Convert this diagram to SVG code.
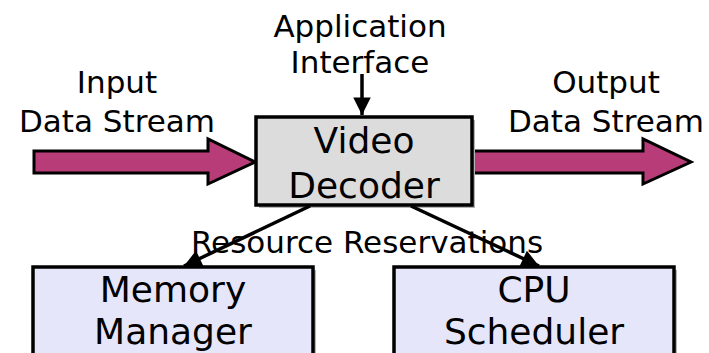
<svg xmlns="http://www.w3.org/2000/svg" width="709" height="353" viewBox="0 0 709 353">
<style>
.lbl{font-family:"DejaVu Sans",Verdana,sans-serif;font-size:31px;fill:#000;text-anchor:middle}
.big{font-family:"DejaVu Sans",Verdana,sans-serif;font-size:36px;fill:#000;text-anchor:middle}
.box{stroke:#000;stroke-width:3.5}
.shadow{fill:#b4b4b4}
.flow{fill:#b83c78;stroke:#000;stroke-width:3;stroke-linejoin:miter}
.conn{stroke:#000;stroke-width:3.5;fill:none}
</style>
<defs>
<marker id="ah" viewBox="0 0 10 10" refX="10" refY="5" markerWidth="6" markerHeight="5" markerUnits="strokeWidth" orient="auto">
<path d="M0,0 L10,5 L0,10 z" fill="#000"/>
</marker>
</defs>
<rect width="709" height="353" fill="#fff"/>
<g id="labels">
<text class="lbl" x="117" y="93">Input</text>
<text class="lbl" x="117" y="132">Data Stream</text>
<text class="lbl" x="360" y="37">Application</text>
<text class="lbl" x="360" y="73">Interface</text>
<text class="lbl" x="606" y="93">Output</text>
<text class="lbl" x="606" y="132">Data Stream</text>
</g>
<g id="input-arrow">
<path class="flow" d="M34,151 L208,151 L208,139 L255,162 L208,184 L208,173 L34,173 z"/>
</g>
<g id="output-arrow">
<path class="flow" d="M472,151 L643,151 L643,139 L691,162 L643,184 L643,173 L472,173 z"/>
</g>
<g id="video-decoder">
<rect class="shadow" x="259" y="120" width="216" height="88"/>
<rect class="box" x="256" y="117" width="216" height="88" fill="#dcdcdc"/>
<text class="big" x="364" y="153">Video</text>
<text class="big" x="364" y="198">Decoder</text>
</g>
<g id="memory-manager">
<rect class="shadow" x="36" y="270" width="280" height="100"/>
<rect class="box" x="33" y="267" width="280" height="100" fill="#e6e6fa"/>
<text class="big" x="173" y="302">Memory</text>
<text class="big" x="173" y="344">Manager</text>
</g>
<g id="cpu-scheduler">
<rect class="shadow" x="397" y="270" width="280" height="100"/>
<rect class="box" x="394" y="267" width="280" height="100" fill="#e6e6fa"/>
<text class="big" x="534" y="302">CPU</text>
<text class="big" x="534" y="344">Scheduler</text>
</g>
<g id="connectors">
<line class="conn" x1="362" y1="74" x2="362" y2="115" marker-end="url(#ah)"/>
<line class="conn" x1="310" y1="206" x2="184" y2="266" marker-end="url(#ah)"/>
<line class="conn" x1="411" y1="206" x2="539" y2="266" marker-end="url(#ah)"/>
</g>
<g id="connector-label">
<text class="lbl" x="367" y="253">Resource Reservations</text>
</g>
</svg>
